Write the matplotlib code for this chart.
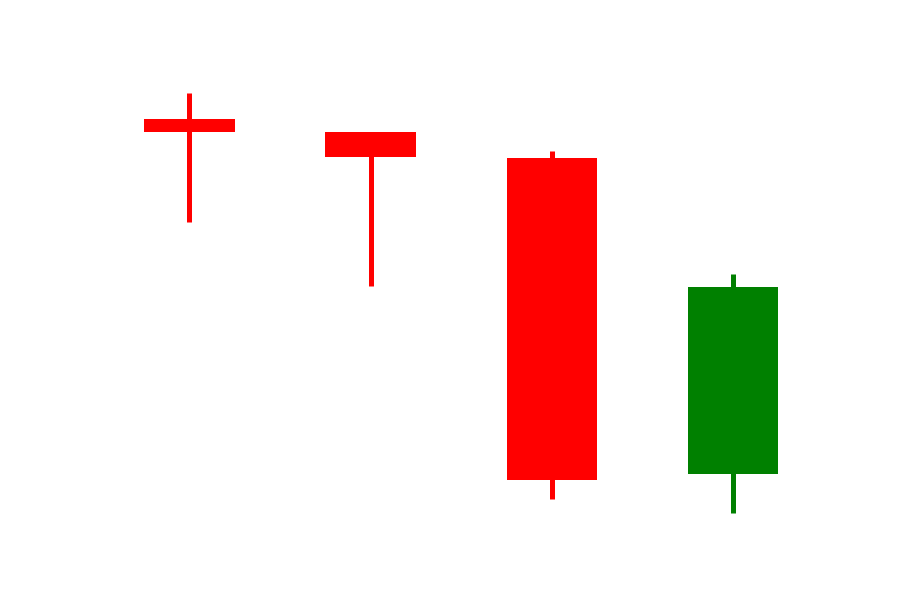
import matplotlib
matplotlib.use('Agg')
import numpy as np
import matplotlib.pyplot as plt

# OHLC values
opens = [193.8, 190.7, 184.5, 109.3]
highs = [200.0, 190.7, 186.2, 156.9]
lows = [169.3, 154.0, 103.3, 100.0]
closes = [190.8, 184.8, 107.8, 153.8]

x = np.arange(len(opens))
opens = np.array(opens)
closes = np.array(closes)
colors = np.where(closes >= opens, 'green', 'red')

fig, ax = plt.subplots(figsize=(9, 6), dpi=100)

# wicks
ax.vlines(x, lows, highs, colors=colors, linewidth=3.6)
# bodies
ax.bar(x, closes - opens, bottom=opens, width=0.5, color=colors)

ax.axis('off')
fig.savefig('out.png', dpi=100)
